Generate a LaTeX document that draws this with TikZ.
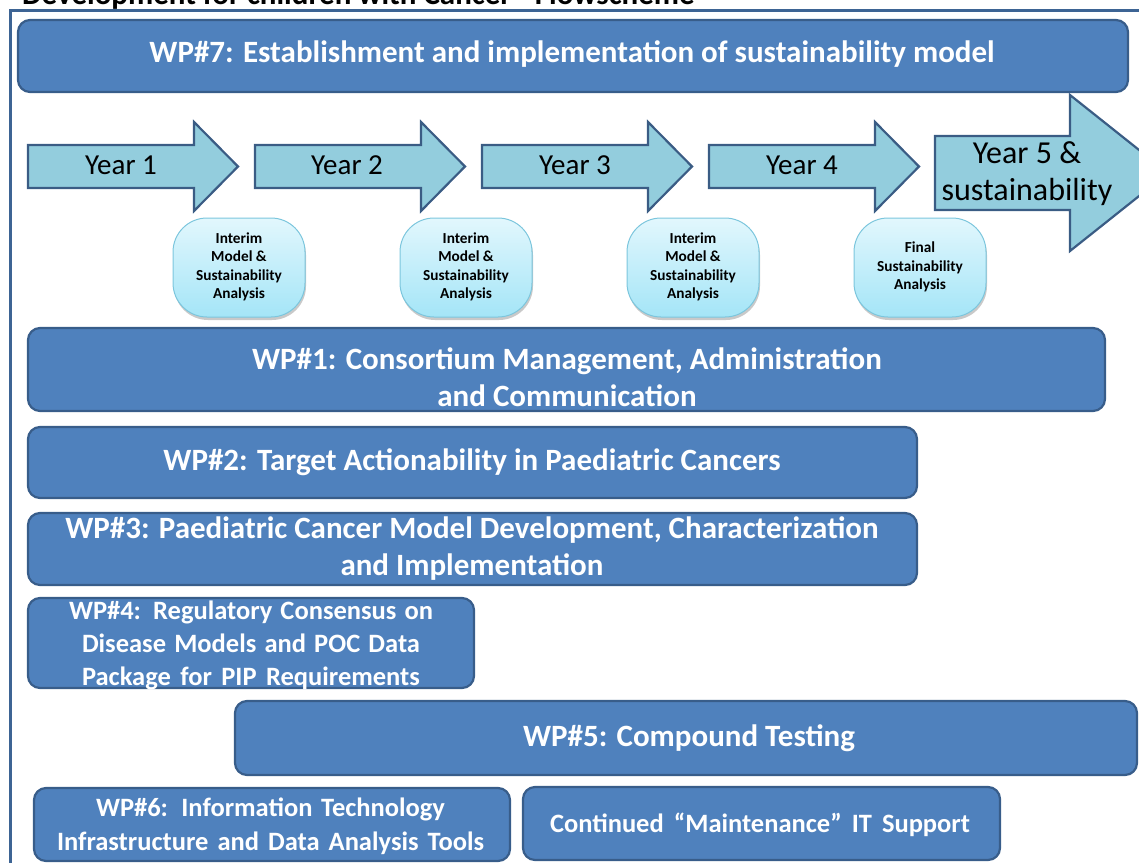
\documentclass[tikz,border=0pt]{standalone}
\usepackage{fontspec}
\setmainfont{Carlito}
\usetikzlibrary{shadows}
\definecolor{wpfill}{HTML}{4F81BD}
\definecolor{wpdraw}{HTML}{385D8A}
\definecolor{arrfill}{HTML}{93CDDD}
\definecolor{arrdraw}{HTML}{3A5C84}
\definecolor{smtop}{HTML}{E2F7FD}
\definecolor{smbot}{HTML}{A4E5F7}
\definecolor{smdraw}{HTML}{7CC6DD}
\definecolor{frame}{HTML}{3D6494}
\tikzset{
  wpbox/.style={draw=wpdraw, fill=wpfill, line width=2.2pt, rounded corners=12pt, inner sep=0pt},
  wptext/.style={text=white, font=\fontsize{31}{37}\bfseries\selectfont, align=center, inner sep=0pt},
  wpsmall/.style={text=white, font=\fontsize{26.5}{33}\bfseries\selectfont, align=center, inner sep=0pt},
  arrowshape/.style={draw=arrdraw, fill=arrfill, line width=2.2pt, line join=miter},
  yeartext/.style={font=\fontsize{29}{37}\selectfont, align=center, inner sep=0pt},
  smbox/.style={draw=smdraw, line width=1pt, top color=smtop, bottom color=smbot, rounded corners=34pt,
    minimum width=132pt, minimum height=99pt, inner sep=0pt,
    drop shadow={shadow xshift=1pt, shadow yshift=-3pt, opacity=.3, fill=black!70}},
  smtext/.style={font=\fontsize{15.3}{18.5}\bfseries\selectfont, align=center, inner sep=0pt}
}
\newcommand\yeararrow[1]{%
  \draw[arrowshape] (#1,145) -- ({#1+166},145) -- ({#1+166},122) -- ({#1+210},166.5)
    -- ({#1+166},211) -- ({#1+166},188) -- (#1,188) -- cycle;}
\begin{document}
\begin{tikzpicture}[x=1pt,y=-1pt]
\useasboundingbox (0,0) rectangle (1139,862);
\clip (0,0) rectangle (1139,862);
% outer frame and cut title
\draw[frame, line width=3pt] (10,10) rectangle (1180,900);
\node[anchor=base west, font=\fontsize{31}{36}\bfseries\selectfont, inner sep=0pt] (title) at (22,5) {Development for children with Cancer - Flowscheme};
% WP#7
\node[wpbox, minimum width=1110pt, minimum height=72pt] (wp7) at (573,56) {};
\node[wptext] (wp7t) at (572,54) {WP\#7: Establishment and implementation of sustainability model};
% year arrows
\yeararrow{28}
\yeararrow{255}
\yeararrow{482}
\yeararrow{709}
\draw[arrowshape] (935,136) -- (1070,136) -- (1070,95) -- (1168,173) -- (1070,251) -- (1070,210) -- (935,210) -- cycle;
\node[yeartext] (y1) at (121,165) {Year 1};
\node[yeartext] (y2) at (347,165) {Year 2};
\node[yeartext] (y3) at (575,165) {Year 3};
\node[yeartext] (y4) at (802,165) {Year 4};
\node[yeartext, font=\fontsize{32}{37}\selectfont] (y5) at (1027,174) {Year 5 \&\\sustainability};
% analysis boxes
\node[smbox] (a1) at (239,267.5) {};
\node[smbox] (a2) at (466,267.5) {};
\node[smbox] (a3) at (693,267.5) {};
\node[smbox] (a4) at (920,267.5) {};
\node[smtext] (a1t) at (239,267) {Interim\\Model \&\\Sustainability\\Analysis};
\node[smtext] (a2t) at (466,267) {Interim\\Model \&\\Sustainability\\Analysis};
\node[smtext] (a3t) at (693,267) {Interim\\Model \&\\Sustainability\\Analysis};
\node[smtext] (a4t) at (920,267) {Final\\Sustainability\\Analysis};
% WP#1
\node[wpbox, minimum width=1077pt, minimum height=83pt] (wp1) at (566.5,369.5) {};
\node[wptext] (wp1t) at (567,377) {WP\#1: Consortium Management, Administration\\and Communication};
% WP#2
\node[wpbox, minimum width=889pt, minimum height=71pt] (wp2) at (472.5,462.5) {};
\node[wptext] (wp2t) at (472,462) {WP\#2: Target Actionability in Paediatric Cancers};
% WP#3
\node[wpbox, minimum width=889pt, minimum height=72pt] (wp3) at (472.5,549) {};
\node[wptext] (wp3t) at (472,549) {WP\#3: Paediatric Cancer Model Development, Characterization\\and Implementation};
% WP#4
\node[wpbox, minimum width=446pt, minimum height=90pt] (wp4) at (251,643) {};
\node[wpsmall] (wp4t) at (251,645) {\makebox[364pt][s]{WP\#4: Regulatory Consensus on}\\\makebox[338pt][s]{Disease Models and POC Data}\\\makebox[338pt][s]{Package for PIP Requirements}};
% WP#5
\node[wpbox, minimum width=902pt, minimum height=74pt] (wp5) at (686,738) {};
\node[wptext] (wp5t) at (689,738) {WP\#5: Compound Testing};
% WP#6
\node[wpbox, minimum width=476pt, minimum height=73pt] (wp6) at (272,824.5) {};
\node[wpsmall, font=\fontsize{26.5}{34}\bfseries\selectfont] (wp6t) at (270.5,826) {\makebox[349pt][s]{WP\#6: Information Technology}\\\makebox[427pt][s]{Infrastructure and Data Analysis Tools}};
% Continued IT support
\node[wpbox, minimum width=477pt, minimum height=73pt] (cont) at (761.5,823.5) {};
\node[wpsmall] (contt) at (760,825) {\makebox[420pt][s]{Continued “Maintenance” IT Support}};
\end{tikzpicture}
\end{document}
